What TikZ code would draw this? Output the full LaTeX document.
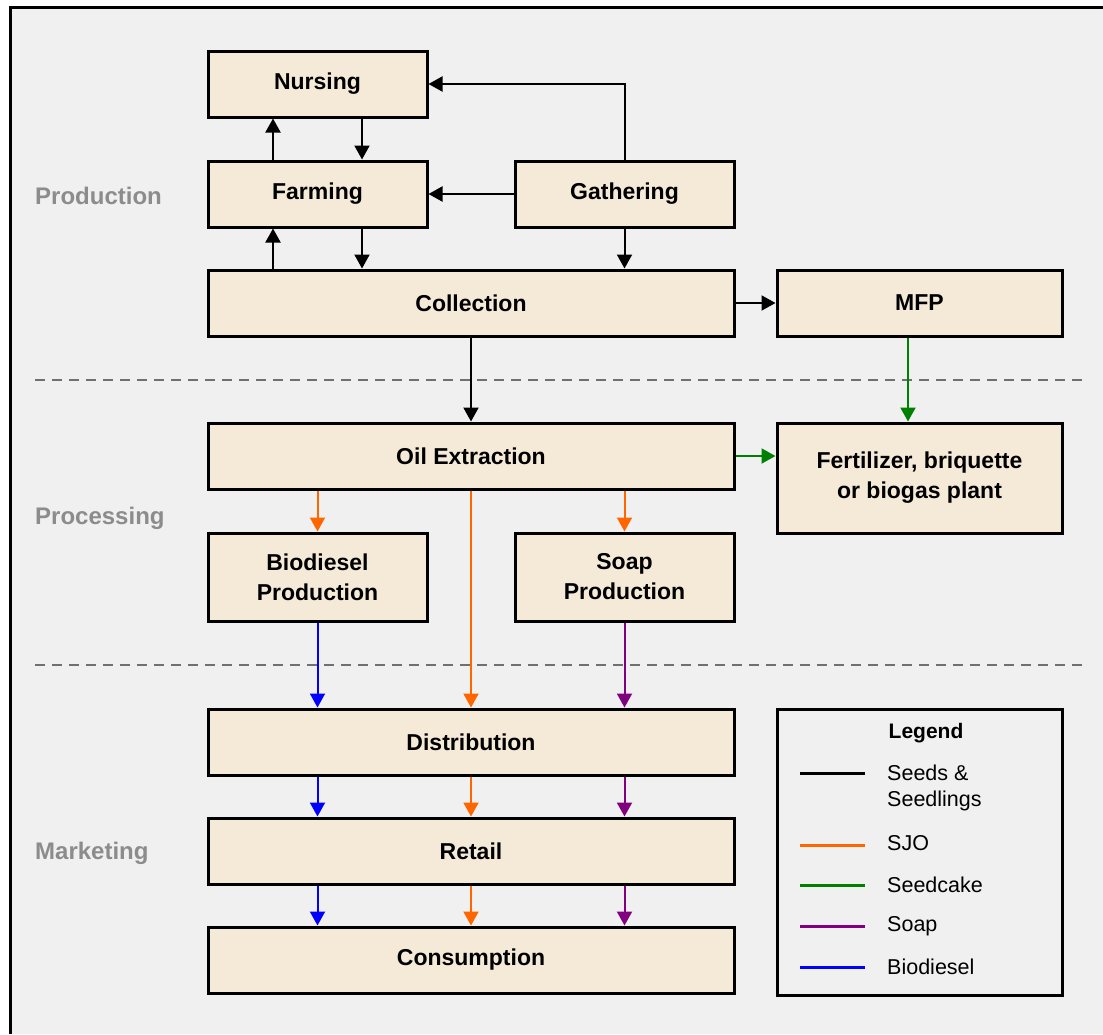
\documentclass[tikz,border=0pt]{standalone}
\usepackage{fontspec}
\setmainfont{Liberation Sans}
\usetikzlibrary{arrows.meta}
\definecolor{cbg}{HTML}{F0F0F0}
\definecolor{cboxfill}{HTML}{F5EAD7}
\definecolor{csect}{HTML}{8C8C8C}
\definecolor{csjo}{HTML}{FF6600}
\definecolor{ccake}{HTML}{008000}
\definecolor{csoap}{HTML}{800080}
\definecolor{cbio}{HTML}{0000FF}
\definecolor{cdash}{HTML}{707070}
\begin{document}
\begin{tikzpicture}[x=1pt,y=-1pt,
  box/.style={draw=black, line width=3pt, fill=cboxfill, inner sep=0pt, align=center,
    font=\fontsize{23}{30}\selectfont\bfseries},
  arr/.style={line width=2pt, -{Triangle[length=14pt,width=15pt]}},
  secttext/.style={text=csect, font=\fontsize{24}{28}\selectfont\bfseries, anchor=west, inner sep=0pt},
  legtext/.style={font=\fontsize{21.5}{26}\selectfont, anchor=west, align=left, inner sep=0pt},
  legline/.style={line width=3pt},
  divider/.style={dash pattern=on 10pt off 7pt, line width=2pt, draw=cdash}]
\useasboundingbox (0,0) rectangle (1103,1034);
\fill[white] (0,0) rectangle (1103,1034);
\fill[cbg] (10,7) rectangle (1103,1034);
\draw[line width=3pt] (10,1034) -- (10,7) -- (1103,7);

% dividers
\coordinate (d1a) at (35,380); \coordinate (d1b) at (1085,380);
\coordinate (d2a) at (35,665); \coordinate (d2b) at (1085,665);
\draw[divider] (d1a) -- (d1b);
\draw[divider] (d2a) -- (d2b);

% section labels
\node[secttext] (lprod) at (35,196) {Production};
\node[secttext] (lproc) at (35,518) {Processing};
\node[secttext] (lmark) at (35,853) {Marketing};

% boxes
\node[box, minimum width=219pt, minimum height=66pt] (nurs) at (317.5,84) {Nursing};
\node[box, minimum width=219pt, minimum height=66pt] (farm) at (317.5,194) {Farming};
\node[box, minimum width=219pt, minimum height=66pt] (gath) at (624.5,194) {Gathering};
\node[box, minimum width=526pt, minimum height=66pt] (coll) at (471,303) {Collection};
\node[box, minimum width=285pt, minimum height=66pt] (mfp) at (919.5,303) {MFP};
\node[box, minimum width=526pt, minimum height=66pt] (oil) at (471,456) {Oil Extraction};
\node[box, minimum width=285pt, minimum height=110pt] (fert) at (919.5,478) {Fertilizer, briquette\\or biogas plant};
\node[box, minimum width=219pt, minimum height=88pt] (biop) at (317.5,577) {Biodiesel\\Production};
\node[box, minimum width=219pt, minimum height=88pt] (soapp) at (624.5,577) {Soap\\Production};
\node[box, minimum width=526pt, minimum height=66pt] (dist) at (471,742) {Distribution};
\node[box, minimum width=526pt, minimum height=66pt] (ret) at (471,851) {Retail};
\node[box, minimum width=526pt, minimum height=66pt] (cons) at (471,960) {Consumption};

% helper x positions
\coordinate (c273) at (273,0);
\coordinate (c362) at (362,0);
\coordinate (c908) at (908,0);

% production arrows
\draw[arr] (farm.north -| c273) -- (nurs.south -| c273);
\draw[arr] (nurs.south -| c362) -- (farm.north -| c362);
\draw[arr] (coll.north -| c273) -- (farm.south -| c273);
\draw[arr] (farm.south -| c362) -- (coll.north -| c362);
\draw[arr] (gath.west) -- (farm.east);
\draw[arr] (gath.north) |- (nurs.east);
\draw[arr] (gath.south) -- (gath.south |- coll.north);
\draw[arr] (coll.east) -- (mfp.west);
\draw[arr] (coll.south) -- (oil.north);

% processing arrows
\draw[arr, ccake] (mfp.south -| c908) -- (fert.north -| c908);
\draw[arr, ccake] (oil.east) -- (oil.east -| fert.west);
\draw[arr, csjo] (oil.south -| biop.north) -- (biop.north);
\draw[arr, csjo] (oil.south -| soapp.north) -- (soapp.north);
\draw[arr, csjo] (oil.south) -- (dist.north);
\draw[arr, cbio] (biop.south) -- (biop.south |- dist.north);
\draw[arr, csoap] (soapp.south) -- (soapp.south |- dist.north);

% marketing arrows
\draw[arr, cbio] (dist.south -| biop.south) -- (ret.north -| biop.south);
\draw[arr, csjo] (dist.south) -- (ret.north);
\draw[arr, csoap] (dist.south -| soapp.south) -- (ret.north -| soapp.south);
\draw[arr, cbio] (ret.south -| biop.south) -- (cons.north -| biop.south);
\draw[arr, csjo] (ret.south) -- (cons.north);
\draw[arr, csoap] (ret.south -| soapp.south) -- (cons.north -| soapp.south);

% legend
\node[draw=black, line width=3pt, minimum width=285pt, minimum height=286pt, inner sep=0pt] (legend) at (919.5,852) {};
\node[font=\fontsize{21}{26}\selectfont\bfseries] (legtitle) at (926,733) {Legend};
\draw[legline, black] (800,773) -- (865,773);
\draw[legline, csjo] (800,845) -- (865,845);
\draw[legline, ccake] (800,885) -- (865,885);
\draw[legline, csoap] (800,926) -- (865,926);
\draw[legline, cbio] (800,967) -- (865,967);
\node[legtext] (lseeds) at (887,788) {Seeds \&\\Seedlings};
\node[legtext] (lsjo) at (887,843) {SJO};
\node[legtext] (lcake) at (887,885) {Seedcake};
\node[legtext] (lsoap) at (887,926) {Soap};
\node[legtext] (lbio) at (887,967) {Biodiesel};
\end{tikzpicture}
\end{document}
